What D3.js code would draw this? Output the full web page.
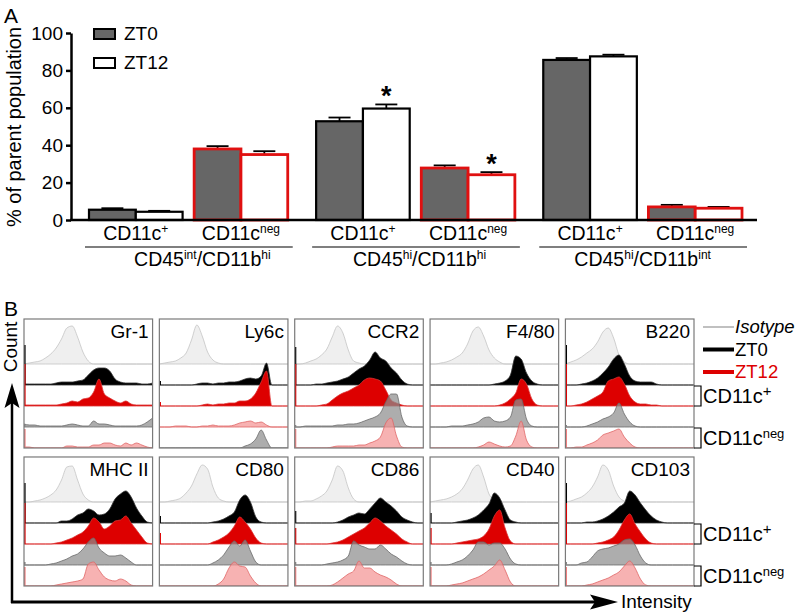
<!DOCTYPE html>
<html><head><meta charset="utf-8">
<script src="https://cdn.jsdelivr.net/npm/d3@7/dist/d3.min.js"></script>
<style>body{margin:0;background:#fff}svg{display:block}</style>
</head><body><svg id="c" width="802" height="615"></svg>
<script>
// ================= Panel A data =================
const superGroups = ["CD45int/CD11bhi", "CD45hi/CD11bhi", "CD45hi/CD11bint"];
const superLabelParts = [["CD45","int","/CD11b","hi"],["CD45","hi","/CD11b","hi"],["CD45","hi","/CD11b","int"]];
const subGroups = ["CD11c+", "CD11cneg"];
const subSup = ["+", "neg"];
const seriesNames = ["ZT0", "ZT12"];
const zt0Means   = [5.5, 38.0, 52.8, 27.8, 85.6, 7.0];
const zt0Errors  = [0.8, 1.5, 2.0, 1.4, 1.0, 1.1];
const zt12Means  = [4.4, 35.0, 59.6, 24.2, 87.5, 6.3];
const zt12Errors = [0.5, 1.8, 2.2, 1.4, 0.9, 0.7];
const zt12Significant = [false, false, true, true, false, false];
const yTicks = [0, 20, 40, 60, 80, 100];

// ================= Panel B data =================
const markers = ["Gr-1","Ly6c","CCR2","F4/80","B220","MHC II","CD80","CD86","CD40","CD103"];
// counts per intensity bin (25 bins, low -> high intensity)
const isotypeCounts = [
 [0,1,2,3,6,10,16,25,36,38,27,12,3,0,0,0,0,0,0,0,0,0,0,0,0],
 [0,1,2,3,6,11,24,39,28,12,4,1,0,0,0,0,0,0,0,0,0,0,0,0,0],
 [0,0,1,3,5,9,15,27,38,31,14,3,1,0,0,0,0,0,0,0,0,0,0,0,0],
 [0,0,1,2,4,7,11,20,33,37,28,14,6,2,0,0,0,0,0,0,0,0,0,0,0],
 [0,2,4,7,11,15,22,32,36,26,9,2,0,0,0,0,0,0,0,0,0,0,0,0,0],
 [0,0,1,2,4,7,12,22,35,36,22,8,2,0,0,0,0,0,0,0,0,0,0,0,0],
 [0,0,1,2,4,9,16,28,37,33,15,4,1,0,0,0,0,0,0,0,0,0,0,0,0],
 [0,0,1,1,3,6,11,22,36,31,14,3,0,0,0,0,0,0,0,0,0,0,0,0,0],
 [0,1,2,3,5,8,13,22,33,37,25,8,2,0,0,0,0,0,0,0,0,0,0,0,0],
 [0,1,3,5,9,15,25,37,32,16,5,1,0,0,0,0,0,0,0,0,0,0,0,0,0]
];
const zt0PosCounts = [
 [1,1,1,1,1,1,2,3,3,3,4,5,10,15,17,17,14,6,3,2,2,2,1,1,2],
 [0,0,0,0,0,0,0,1,2,2,1,2,2,3,3,4,6,7,6,9,22,0,0,0,0],
 [0,0,0,0,1,1,2,3,4,6,8,12,16,19,25,33,27,24,17,12,5,1,0,0,0],
 [0,0,0,0,0,0,0,0,0,0,0,0,1,2,4,10,29,26,12,4,1,0,0,0,0],
 [0,0,0,1,2,4,7,12,18,26,30,21,9,4,3,3,3,1,0,0,0,0,0,0,0],
 [0,0,0,0,0,0,0,2,2,4,8,10,14,12,8,9,14,24,29,32,26,15,7,1,0],
 [0,0,0,0,0,0,0,0,0,0,1,2,4,7,11,23,28,21,6,1,0,0,0,0,0],
 [0,0,0,0,0,0,0,0,1,3,6,8,10,9,14,20,25,21,17,12,6,3,1,0,0],
 [0,0,0,0,0,1,2,3,5,8,13,19,30,25,13,3,1,0,0,0,0,0,0,0,0],
 [0,0,0,0,1,1,2,4,7,11,16,20,32,28,20,13,7,3,1,0,0,0,0,0,0]
];
const zt12PosCounts = [
 [1,1,1,1,1,1,1,2,3,5,4,7,8,14,27,12,8,5,3,5,2,1,1,1,1],
 [0,0,0,0,0,0,0,0,1,2,1,2,2,3,3,5,5,7,13,24,35,0,0,0,0],
 [0,0,0,0,0,1,2,6,10,13,15,18,21,26,28,27,25,16,6,3,1,0,0,0,0],
 [0,0,0,0,0,0,0,0,0,0,0,0,0,1,3,7,13,27,22,7,1,0,0,0,0],
 [0,0,1,2,4,7,10,14,25,27,29,22,10,4,2,2,1,1,0,0,0,0,0,0,0],
 [0,0,0,0,0,0,1,2,4,6,9,12,18,26,22,15,18,23,24,28,21,14,7,1,0],
 [0,0,0,0,0,0,0,0,0,0,2,4,7,11,18,27,22,15,6,1,0,0,0,0,0],
 [0,0,0,0,0,0,0,1,2,4,7,10,13,16,21,26,23,18,14,10,5,2,0,0,0],
 [0,0,0,0,0,1,2,3,4,5,8,15,28,34,16,3,0,0,0,0,0,0,0,0,0],
 [0,0,0,0,0,0,1,2,4,7,14,24,30,20,12,5,1,0,0,0,0,0,0,0,0]
];
const zt0NegCounts = [
 [3,2,2,1,1,1,1,1,2,3,2,1,1,6,3,3,2,1,1,1,1,1,2,5,9],
 [0,0,0,0,0,0,0,0,0,0,0,0,0,0,0,0,2,4,9,18,8,0,0,0,0],
 [0,0,1,1,1,1,1,1,2,2,3,3,4,6,8,10,14,25,33,33,10,1,0,0,0],
 [0,0,0,0,1,1,1,2,3,5,9,10,6,5,6,10,27,28,8,1,0,0,0,0,0],
 [0,0,0,0,1,3,5,8,10,14,24,13,5,1,0,0,0,0,0,0,0,0,0,0,0],
 [0,0,0,0,0,1,2,4,6,9,11,16,23,27,17,12,9,9,10,7,3,0,0,0,0],
 [0,0,0,0,0,0,0,0,0,0,2,5,10,18,24,19,25,14,3,0,0,0,0,0,0],
 [0,0,0,0,0,0,1,2,3,5,9,24,20,18,16,16,20,16,11,8,4,1,0,0,0],
 [0,0,0,0,1,3,5,9,15,23,23,20,22,22,16,6,1,0,0,0,0,0,0,0,0],
 [0,0,0,2,3,8,14,16,17,19,21,25,26,20,9,2,0,0,0,0,0,0,0,0,0]
];
const zt12NegCounts = [
 [1,1,0,0,0,0,0,0,2,2,1,1,1,3,3,5,5,3,2,5,3,5,3,1,0],
 [0,0,0,1,1,1,0,0,1,1,2,1,1,1,2,4,5,6,4,5,2,0,0,0,0],
 [0,0,0,0,0,0,0,1,2,2,2,2,3,3,5,7,11,25,30,12,1,0,0,0,0],
 [0,0,0,0,0,0,0,0,0,1,3,6,4,2,1,2,12,27,8,1,0,0,0,0,0],
 [0,0,1,1,3,5,8,13,15,17,19,11,5,1,0,0,0,0,0,0,0,0,0,0,0],
 [0,0,0,0,0,0,1,2,3,4,5,7,22,24,16,9,6,5,7,5,1,0,0,0,0],
 [0,0,0,0,0,0,0,0,0,0,0,2,7,18,24,20,19,10,3,0,0,0,0,0,0],
 [0,0,0,0,0,0,0,1,4,8,12,15,25,18,18,14,11,9,6,2,0,0,0,0,0],
 [0,0,0,0,1,2,3,5,7,9,12,16,20,26,16,4,0,0,0,0,0,0,0,0,0],
 [0,0,0,0,1,2,4,6,8,11,14,20,25,18,7,1,0,0,0,0,0,0,0,0,0]
];
// events piled at the low edge: [ZT0 CD11c+, ZT12 CD11c+, ZT0 CD11cneg, ZT12 CD11cneg]
const edgeCounts = [[40,42,3,19],[4,4,0,0],[38,42,2,19],[0,0,0,0],[40,42,2,19],
                    [40,41,3,19],[7,11,0,0],[12,16,3,19],[10,16,3,19],[40,41,3,19]];
const negLanesSwapped = [false,true,false,false,false,false,false,false,false,false];
const legendB = ["Isotype","ZT0","ZT12"];

// ================= drawing =================
const FONT = "'Liberation Sans', Arial, Helvetica, sans-serif";
const svg = d3.select("#c").style("font-family", FONT);

function supText(sel, parts, big, small, shift) {
  parts.forEach((p, i) => {
    const t = sel.append("tspan").text(p);
    if (i % 2 === 1) t.attr("font-size", small).attr("dy", -shift);
    else if (i > 0) t.attr("dy", shift);
  });
}

// ---------- Panel A ----------
const A = svg.append("g");
A.append("text").attr("x", 4).attr("y", 23).attr("font-size", 21).text("A");

const y = d3.scaleLinear().domain([0, 100]).range([220, 33]);
const outer = d3.scaleBand().domain(superGroups).range([89, 742]).paddingInner(0.125);
const inner = d3.scaleBand().domain(subGroups).range([0, outer.bandwidth()]).paddingInner(0.11);
const ser = d3.scaleBand().domain(seriesNames).range([0, inner.bandwidth()]);

const gy = A.append("g").attr("transform", "translate(71,0)")
  .call(d3.axisLeft(y).tickValues(yTicks).tickSize(5).tickSizeOuter(0).tickPadding(3));
gy.select(".domain").attr("stroke-width", 2.5);
gy.selectAll(".tick line").attr("stroke-width", 2.5);
gy.selectAll(".tick text").attr("font-size", 19).attr("font-family", FONT).attr("fill", "#000");

A.append("text").attr("transform", "translate(21,127) rotate(-90)")
  .attr("text-anchor", "middle").attr("font-size", 20).text("% of parent population");

const barRows = [];
superGroups.forEach((s, k) => subGroups.forEach((sg, j) => {
  const idx = k * 2 + j;
  barRows.push({s, sg, j, series: "ZT0", v: zt0Means[idx], e: zt0Errors[idx], sig: false});
  barRows.push({s, sg, j, series: "ZT12", v: zt12Means[idx], e: zt12Errors[idx], sig: zt12Significant[idx]});
}));
const bx = d => outer(d.s) + inner(d.sg) + ser(d.series);

const eb = A.append("g").attr("stroke", "#000").attr("stroke-width", 1.8);
barRows.forEach(d => {
  const cx = bx(d) + ser.bandwidth() / 2;
  eb.append("line").attr("x1", cx).attr("x2", cx).attr("y1", y(d.v)).attr("y2", y(d.v + d.e));
  eb.append("line").attr("x1", cx - 11).attr("x2", cx + 11).attr("y1", y(d.v + d.e)).attr("y2", y(d.v + d.e));
});
A.append("g").selectAll("rect").data(barRows).join("rect")
  .attr("x", d => bx(d)).attr("width", ser.bandwidth())
  .attr("y", d => y(d.v)).attr("height", d => y(0) - y(d.v))
  .attr("fill", d => d.series === "ZT0" ? "#666666" : "#ffffff")
  .attr("stroke", d => d.j === 0 ? "#000" : "#e01010")
  .attr("stroke-width", d => d.j === 0 ? 2.2 : 2.8);

A.append("g").selectAll("text").data(barRows.filter(d => d.sig)).join("text")
  .attr("x", d => bx(d) + ser.bandwidth() / 2).attr("y", d => y(d.v + d.e) + 1)
  .attr("text-anchor", "middle").attr("font-size", 27).attr("font-weight", "bold").text("*");

A.append("line").attr("x1", 70).attr("x2", 757).attr("y1", y(0)).attr("y2", y(0))
  .attr("stroke", "#000").attr("stroke-width", 2.5);

superGroups.forEach((s, k) => {
  subGroups.forEach((sg, j) => {
    const t = A.append("text").attr("x", outer(s) + inner(sg) + inner.bandwidth() / 2).attr("y", 240)
      .attr("text-anchor", "middle").attr("font-size", 19.5);
    supText(t, ["CD11c", subSup[j]], 19.5, 12, 7);
  });
  A.append("line").attr("x1", outer(s) - 4).attr("x2", outer(s) + outer.bandwidth() + 5)
    .attr("y1", 247).attr("y2", 247).attr("stroke", "#000").attr("stroke-width", 1.2);
  const shift = [14, 4, 0][k];
  const t = A.append("text").attr("x", outer(s) + outer.bandwidth() / 2 + shift).attr("y", 266)
    .attr("text-anchor", "middle").attr("font-size", 19.5);
  supText(t, superLabelParts[k], 19.5, 12, 7);
});

seriesNames.forEach((n, i) => {
  A.append("rect").attr("x", 94).attr("y", 29 + i * 29).attr("width", 21).attr("height", 10)
    .attr("fill", i === 0 ? "#666666" : "#fff").attr("stroke", "#000").attr("stroke-width", 2);
  A.append("text").attr("x", 124).attr("y", 40 + i * 29).attr("font-size", 19).text(n);
});

// ---------- Panel B ----------
const B = svg.append("g");
B.append("text").attr("x", 4).attr("y", 316).attr("font-size", 21).text("B");

const colX = d3.scaleBand().domain(d3.range(5)).range([24, 694]).paddingInner(0.05);
const rowY = d3.scaleBand().domain(d3.range(2)).range([319, 586]).paddingInner(0.065);
const pw = colX.bandwidth(), ph = rowY.bandwidth();
const lane = d3.scaleLinear().domain([0, 4]).range([45, ph]);
const cnt = d3.scaleLinear().domain([0, 40]).range([0, 40]);

const styles = {
  iso:  {fill: "#efefef", stroke: "#c4c4c4", op: 1, edge: "#ccc"},
  p0:   {fill: "#000000", stroke: "#333", op: 1, edge: "#000"},
  p12:  {fill: "#dd0000", stroke: "#d33", op: 1, edge: "#dd0000"},
  n0:   {fill: "#8e8e8e", stroke: "#6a6a6a", op: 0.72, edge: "#888"},
  n12:  {fill: "#f49494", stroke: "#e06666", op: 0.72, edge: "#f08080"}
};

markers.forEach((m, i) => {
  const col = i % 5, row = Math.floor(i / 5);
  const g = B.append("g").attr("transform", `translate(${colX(col)},${rowY(row)})`);
  const cid = "clip" + i;
  g.append("clipPath").attr("id", cid).append("rect").attr("width", pw).attr("height", ph);
  const cg = g.append("g").attr("clip-path", `url(#${cid})`);
  const curves = [
    {data: isotypeCounts[i], st: styles.iso, lane: 0, edge: 0},
    {data: zt0PosCounts[i], st: styles.p0, lane: 1, edge: edgeCounts[i][0]},
    {data: zt12PosCounts[i], st: styles.p12, lane: 2, edge: edgeCounts[i][1]},
    {data: zt0NegCounts[i], st: styles.n0, lane: negLanesSwapped[i] ? 4 : 3, edge: edgeCounts[i][2]},
    {data: zt12NegCounts[i], st: styles.n12, lane: negLanesSwapped[i] ? 3 : 4, edge: edgeCounts[i][3]}
  ].sort((a, b) => a.lane - b.lane);
  curves.forEach(c => {
    const base = lane(c.lane);
    const x = d3.scaleLinear().domain([0, c.data.length - 1]).range([0, pw]);
    const area = d3.area().x((d, k) => x(k)).y0(base).y1(d => base - cnt(d)).curve(d3.curveMonotoneX);
    cg.append("path").attr("d", area(c.data)).attr("fill", c.st.fill).attr("fill-opacity", c.st.op)
      .attr("stroke", c.st.stroke).attr("stroke-width", 0.8);
    if (c.edge > 0) cg.append("rect").attr("x", 0).attr("width", 1.6)
      .attr("y", base - cnt(c.edge)).attr("height", cnt(c.edge)).attr("fill", c.st.edge);
  });
  g.append("rect").attr("width", pw).attr("height", ph).attr("fill", "none")
    .attr("stroke", "#7a7a7a").attr("stroke-width", 1.2);
  g.append("text").attr("x", pw - 4).attr("y", 19).attr("text-anchor", "end")
    .attr("font-size", 19).text(m);
});

const legColors = ["#c0c0c0", "#000", "#dd0000"];
const legW = [2, 4, 4];
legendB.forEach((n, i) => {
  const yy = 327 + i * 22.5;
  B.append("line").attr("x1", 703).attr("x2", 734).attr("y1", yy).attr("y2", yy)
    .attr("stroke", legColors[i]).attr("stroke-width", legW[i]);
  B.append("text").attr("x", 735).attr("y", yy + 6).attr("font-size", 18.5)
    .attr("font-style", i === 0 ? "italic" : "normal")
    .attr("fill", i === 2 ? "#dd0000" : "#000").text(n);
});

[0, 1].forEach(row => {
  const top = rowY(row);
  [[1, 2, "+"], [3, 4, "neg"]].forEach(([a, b, sup]) => {
    const y1 = top + lane(a) + 1, y2 = top + lane(b);
    B.append("path").attr("d", `M694,${y1}H701V${y2}H694`).attr("fill", "none")
      .attr("stroke", "#000").attr("stroke-width", 1.2);
    const t = B.append("text").attr("x", 703).attr("y", y2 - 3).attr("font-size", 20);
    supText(t, ["CD11c", sup], 20, sup === "+" ? 15 : 13, 7);
  });
});

const ax = B.append("g");
ax.append("line").attr("x1", 12).attr("x2", 12).attr("y1", 603).attr("y2", 400)
  .attr("stroke", "#000").attr("stroke-width", 2.5);
ax.append("path").attr("d", "M12,383L4.5,408L12,403L19.5,408Z").attr("fill", "#000");
ax.append("line").attr("x1", 11).attr("x2", 600).attr("y1", 602).attr("y2", 602)
  .attr("stroke", "#000").attr("stroke-width", 3);
ax.append("path").attr("d", "M618,602L590,594.5L595,602L590,609.5Z").attr("fill", "#000");
ax.append("text").attr("transform", "translate(17,347) rotate(-90)").attr("text-anchor", "middle")
  .attr("font-size", 19).text("Count");
ax.append("text").attr("x", 621).attr("y", 608).attr("font-size", 19).text("Intensity");
</script></body></html>
